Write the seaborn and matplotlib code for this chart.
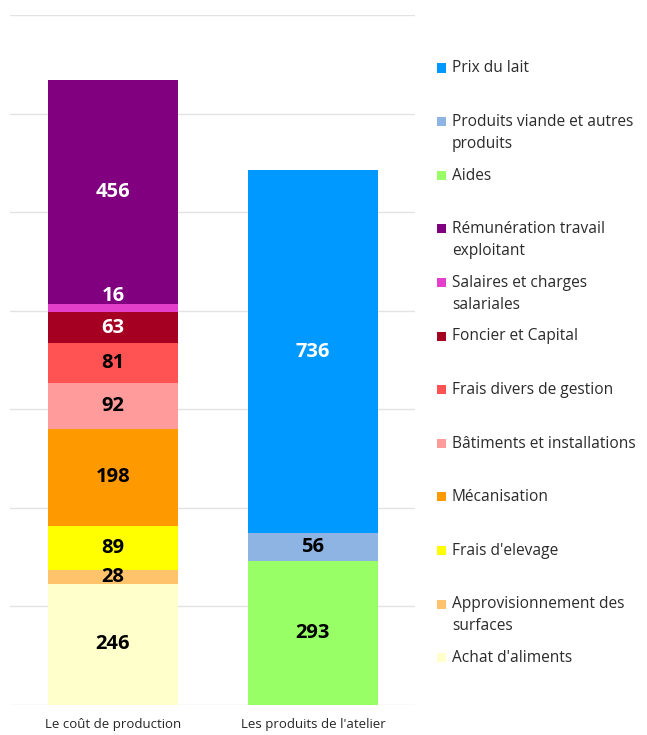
import pandas as pd
import matplotlib.pyplot as plt
import seaborn as sns
from matplotlib.patches import Rectangle

# Données (€/1000 L)
barres = ["Le coût de production", "Les produits de l'atelier"]

postes_cout = ["Achat d'aliments", "Approvisionnement des surfaces", "Frais d'elevage",
               "Mécanisation", "Bâtiments et installations", "Frais divers de gestion",
               "Foncier et Capital", "Salaires et charges salariales",
               "Rémunération travail exploitant"]
valeurs_cout = [246, 28, 89, 198, 92, 81, 63, 16, 456]
couleurs_cout = ["#FFFFCC", "#FFC46B", "#FFFF00", "#FF9900", "#FF9B9B", "#FF5353",
                 "#A50021", "#E43FCB", "#800080"]
texte_cout = ["black", "black", "black", "black", "black", "black", "white", "white", "white"]

postes_produits = ["Aides", "Produits viande et autres produits", "Prix du lait"]
valeurs_produits = [293, 56, 736]
couleurs_produits = ["#99FF66", "#8EB4E3", "#0099FF"]
texte_produits = ["black", "black", "white"]

# Ordre de la légende (haut -> bas)
legende = ["Prix du lait", "Produits viande et autres\nproduits", "Aides",
           "Rémunération travail\nexploitant", "Salaires et charges\nsalariales",
           "Foncier et Capital", "Frais divers de gestion", "Bâtiments et installations",
           "Mécanisation", "Frais d'elevage", "Approvisionnement des\nsurfaces",
           "Achat d'aliments"]
couleurs_legende = couleurs_produits[::-1] + couleurs_cout[::-1]

# Table longue avec la base de chaque segment
lignes = []
for barre, postes, vals, cols, txt in [(barres[0], postes_cout, valeurs_cout, couleurs_cout, texte_cout),
                                       (barres[1], postes_produits, valeurs_produits, couleurs_produits, texte_produits)]:
    base = 0
    for p, v, c, t in zip(postes, vals, cols, txt):
        lignes.append({"barre": barre, "poste": p, "valeur": v, "base": base, "couleur": c, "texte": t})
        base += v
df = pd.DataFrame(lignes)

sns.set_style("white")
plt.rcParams['font.family'] = ['Open Sans', 'DejaVu Sans']

fig = plt.figure(figsize=(6.47, 7.35), dpi=100)
ax = fig.add_axes([0.0155, 0.0408, 0.6255, 0.9388])

for _, r in df.iterrows():
    sub = pd.DataFrame({"barre": [r["barre"]], "valeur": [r["valeur"]]})
    sns.barplot(data=sub, x="barre", y="valeur", order=barres, color=r["couleur"],
                bottom=r["base"], width=0.65, saturation=1, ax=ax, zorder=3, linewidth=0)
    y = r["base"] + r["valeur"] / 2
    dy = 9 if r["valeur"] < 20 else 0
    ax.annotate(str(r["valeur"]), (barres.index(r["barre"]), y), xytext=(0, dy),
                textcoords="offset points", ha="center", va="center",
                fontsize=14.5, fontweight="bold", color=r["texte"], zorder=4)

ax.set_xlim(-0.515, 1.509)
ax.set_ylim(0, 1400)
ax.set_yticks(range(0, 1401, 200))
ax.yaxis.grid(True, color="#E3E3E3", linewidth=1)
ax.set_axisbelow(True)
ax.tick_params(left=False, bottom=False, labelleft=False, pad=6)
ax.set_xticks([0, 1])
ax.set_xticklabels(barres, fontsize=9.5, color="#262626")
ax.set_xlabel("")
ax.set_ylabel("")
for s in ax.spines.values():
    s.set_visible(False)

# Légende à droite, une entrée tous les ~53.6 px
W, H = 647, 735
for i, (lab, col) in enumerate(zip(legende, couleurs_legende)):
    ypx = 68 + i * 53.6
    fig.add_artist(Rectangle((437 / W, 1 - (ypx + 4.5) / H), 9 / W, 9 / H,
                             transform=fig.transFigure, color=col, linewidth=0))
    fig.text(452 / W, 1 - (ypx - 7.5) / H, lab, ha="left", va="top", fontsize=11.2,
             color="#2B2B2B", linespacing=1.5)

fig.savefig("out.png", dpi=100)
